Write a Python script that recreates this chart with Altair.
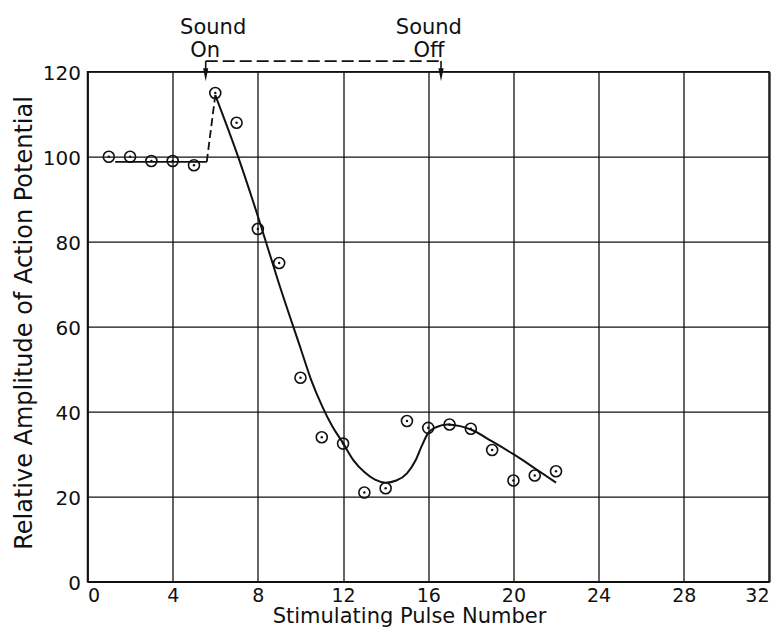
import altair as alt
import pandas as pd

# ---- data ----
pulse = [1, 2, 3, 4, 5, 6, 7, 8, 9, 10, 11, 12, 13, 14, 15, 16, 17, 18, 19, 20, 21, 22]
amplitude = [100, 100, 99, 99, 98, 115, 108, 83, 75, 48, 34, 32.5, 21, 22,
             37.8, 36.2, 37, 36, 31, 23.8, 25, 26]

# hand-drawn smooth fit
curve_x = [6.0, 7.0, 8.0, 9.0, 10.0, 10.5, 11.0, 11.5, 12.0, 12.5, 13.0, 13.5,
           14.0, 14.5, 15.0, 15.4, 15.7, 16.0, 16.4, 16.9, 17.5, 18.0, 19.0,
           20.0, 21.0, 22.0]
curve_y = [114.5, 101, 86, 70, 55, 47.5, 41.5, 36.5, 32.6, 28.5, 25.8, 24.0,
           23.3, 23.8, 25.5, 28.5, 32.0, 35.0, 36.4, 37.0, 36.6, 35.8, 33.0,
           30.0, 26.7, 23.3]

# baseline (pre-sound) level and dashed jump
base_x = [1.3, 5.6]
base_y = [98.8, 98.8]
jump_x = [5.6, 6.0]
jump_y = [98.8, 114.5]

# sound on / off markers
sound_x = [5.55, 16.6]
bracket_y = [122.5, 122.5]
arrow_tip = [119.5, 119.5]
arrow_head = [119.3, 119.3]

label_text = ["Sound", "On", "Sound", "Off"]
label_x = [5.9, 5.52, 16.03, 16.03]
label_y = [128.8, 123.5, 128.8, 123.5]

x_ticks = [0, 4, 8, 12, 16, 20, 24, 28, 32]
y_ticks = [0, 20, 40, 60, 80, 100, 120]

INK = "#111111"
FONT = "DejaVu Sans"

xs = alt.Scale(domain=[0, 32], nice=False, zero=False)
ys = alt.Scale(domain=[0, 120], nice=False, zero=False)

x_axis = alt.Axis(
    values=x_ticks, title="Stimulating Pulse Number", ticks=False,
    labelFontSize=19, labelFont=FONT, labelColor=INK, labelPadding=5,
    labelFlush=True, labelOverlap=False,
    titleFontSize=21, titleFont=FONT, titleFontWeight="normal", titleColor=INK,
    titleX=321.5, titleY=41, titleAlign="center", titleBaseline="alphabetic",
    domainColor=INK, domainWidth=1.5, gridColor=INK, gridWidth=1.3, gridOpacity=1,
)
y_axis = alt.Axis(
    values=y_ticks, title="Relative Amplitude of Action Potential", ticks=False,
    labelFontSize=20, labelFont=FONT, labelColor=INK, labelPadding=7,
    labelFlush=False, labelOverlap=False, labelOffset=1.5,
    titleFontSize=24, titleFont=FONT, titleFontWeight="normal", titleColor=INK,
    titleX=-63.5, titleY=250.8, titleAngle=270, titleAlign="center",
    titleBaseline="middle",
    domainColor=INK, domainWidth=1.5, gridColor=INK, gridWidth=1.3, gridOpacity=1,
)

pts = pd.DataFrame({"x": pulse, "y": amplitude})
curve = pd.DataFrame({"x": curve_x, "y": curve_y})
base = pd.DataFrame({"x": base_x, "y": base_y})
jump = pd.DataFrame({"x": jump_x, "y": jump_y})
bracket = pd.DataFrame({"x": sound_x, "y": bracket_y})
stems = pd.DataFrame({"x": sound_x, "y": bracket_y, "y2": arrow_tip})
heads = pd.DataFrame({"x": sound_x, "y": arrow_head})
labels = pd.DataFrame({"x": label_x, "y": label_y, "t": label_text})


def X():
    return alt.X("x:Q", scale=xs, axis=x_axis)


def Y():
    return alt.Y("y:Q", scale=ys, axis=y_axis)


curve_l = alt.Chart(curve).mark_line(
    color=INK, strokeWidth=2, interpolate="monotone"
).encode(x=X(), y=Y())

base_l = alt.Chart(base).mark_line(color=INK, strokeWidth=1.8).encode(x=X(), y=Y())

jump_l = alt.Chart(jump).mark_line(
    color=INK, strokeWidth=1.8, strokeDash=[8, 4]
).encode(x=X(), y=Y())

bracket_l = alt.Chart(bracket).mark_line(
    color=INK, strokeWidth=1.8, strokeDash=[12, 5]
).encode(x=X(), y=Y())

stems_l = alt.Chart(stems).mark_rule(color=INK, strokeWidth=1.6).encode(
    x=X(), y=Y(), y2="y2:Q"
)

heads_l = alt.Chart(heads).mark_point(
    shape="M-0.4,-1L0.4,-1L0,1Z", filled=True, color=INK, size=169, opacity=1
).encode(x=X(), y=Y())

circles = alt.Chart(pts).mark_point(
    shape="circle", filled=False, color=INK, size=121, strokeWidth=1.6, opacity=1
).encode(x=X(), y=Y())

dots = alt.Chart(pts).mark_point(
    shape="circle", filled=True, color=INK, size=6, opacity=1
).encode(x=X(), y=Y())

texts = alt.Chart(labels).mark_text(
    font=FONT, fontSize=21, color=INK, align="center", baseline="alphabetic"
).encode(x=X(), y=Y(), text="t:N")

chart = alt.layer(
    base_l, jump_l, curve_l, bracket_l, stems_l, heads_l, circles, dots, texts
).properties(
    width=681.5,
    height=510,
    autosize=alt.AutoSizeParams(type="none"),
    padding={"left": 79.5, "top": 63.7, "right": 7, "bottom": 47.3},
    background="white",
).configure_view(
    stroke=INK, strokeWidth=1.5
)

chart.save("out.html", embed_options={"renderer": "svg", "actions": False})
